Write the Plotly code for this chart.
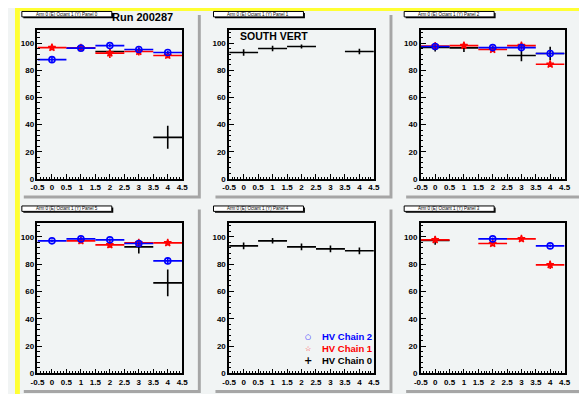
import plotly.graph_objects as go

# ---------------- data ----------------
BINS = [0, 1, 2, 3, 4]
BIN_HALF_WIDTH = 0.5
X_TICKS = [-0.5, 0, 0.5, 1, 1.5, 2, 2.5, 3, 3.5, 4, 4.5]
X_TICK_LABELS = ["-0.5", "0", "0.5", "1", "1.5", "2", "2.5", "3", "3.5", "4", "4.5"]
Y_TICKS = [0, 20, 40, 60, 80, 100]
Y_TICK_LABELS = ["0", "20", "40", "60", "80", "100"]

PANEL_TITLES = ["Arm 0 (E) Octant 1 (Y) Panel 0", "Arm 0 (E) Octant 1 (Y) Panel 1",
                "Arm 0 (E) Octant 1 (Y) Panel 2", "Arm 0 (E) Octant 1 (Y) Panel 5",
                "Arm 0 (E) Octant 1 (Y) Panel 4", "Arm 0 (E) Octant 1 (Y) Panel 3"]
CHAIN_NAMES = ["HV Chain 0", "HV Chain 1", "HV Chain 2"]
CHAIN_COLORS = ["#000000", "#ff0000", "#0000ff"]

# efficiency per bin (None = no point), and errors
p0_chain0 = [None, None, 93.9, None, 30.6]
p0_chain0_err = [0, 0, 1.5, 0, 8.5]
p0_chain1 = [96.8, 96.6, 92.7, 93.9, 91.0]
p0_chain1_err = [2.0, 2.0, 3.5, 3.0, 2.0]
p0_chain2 = [87.9, 96.4, 98.3, 95.4, 93.2]
p0_chain2_err = [2.4, 1.2, 1.2, 1.5, 1.2]

p1_chain0 = [93.2, 96.1, 97.6, None, 93.9]
p1_chain0_err = [2.4, 2.0, 1.5, 0, 2.0]
p1_chain1 = [None, None, None, None, None]
p1_chain1_err = [0, 0, 0, 0, 0]
p1_chain2 = [None, None, None, None, None]
p1_chain2_err = [0, 0, 0, 0, 0]

p2_chain0 = [97.0, 96.6, None, 91.0, 92.5]
p2_chain0_err = [3.0, 3.0, 0, 4.3, 5.0]
p2_chain1 = [98.0, 98.3, 95.4, 98.3, 84.5]
p2_chain1_err = [1.2, 1.5, 1.5, 1.5, 2.0]
p2_chain2 = [97.6, None, 96.8, 96.8, 92.5]
p2_chain2_err = [1.5, 0, 1.2, 1.5, 1.5]

p5_chain0 = [None, None, None, 92.7, 66.3]
p5_chain0_err = [0, 0, 0, 4.9, 9.8]
p5_chain1 = [None, 97.1, 94.1, 95.6, 95.6]
p5_chain1_err = [0, 2.0, 2.0, 1.5, 1.5]
p5_chain2 = [97.1, 98.5, 97.8, 95.1, 82.4]
p5_chain2_err = [1.0, 1.2, 1.0, 1.5, 2.5]

p4_chain0 = [93.4, 97.1, 92.7, 91.2, 89.8]
p4_chain0_err = [2.5, 2.0, 2.5, 2.5, 2.5]
p4_chain1 = [None, None, None, None, None]
p4_chain1_err = [0, 0, 0, 0, 0]
p4_chain2 = [None, None, None, None, None]
p4_chain2_err = [0, 0, 0, 0, 0]

p3_chain0 = [97.3, None, None, None, None]
p3_chain0_err = [3.0, 0, 0, 0, 0]
p3_chain1 = [97.8, None, 95.1, 98.5, 79.5]
p3_chain1_err = [1.5, 0, 2.0, 1.0, 3.0]
p3_chain2 = [None, None, 98.5, None, 93.4]
p3_chain2_err = [0, 0, 1.0, 0, 1.0]

PANELS = [
    [(p0_chain0, p0_chain0_err), (p0_chain1, p0_chain1_err), (p0_chain2, p0_chain2_err)],
    [(p1_chain0, p1_chain0_err), (p1_chain1, p1_chain1_err), (p1_chain2, p1_chain2_err)],
    [(p2_chain0, p2_chain0_err), (p2_chain1, p2_chain1_err), (p2_chain2, p2_chain2_err)],
    [(p5_chain0, p5_chain0_err), (p5_chain1, p5_chain1_err), (p5_chain2, p5_chain2_err)],
    [(p4_chain0, p4_chain0_err), (p4_chain1, p4_chain1_err), (p4_chain2, p4_chain2_err)],
    [(p3_chain0, p3_chain0_err), (p3_chain1, p3_chain1_err), (p3_chain2, p3_chain2_err)],
]

# ---------------- layout geometry (pixels) ----------------
W, H = 587, 394
COL_PAD = [(6, 187), (202, 383), (397, 578)]
ROW_PAD = [(4, 190), (201, 387)]
COL_FRAME = [(23, 171), (219, 367), (415, 562)]
ROW_FRAME = [(22, 173), (218, 370)]
SHADOW = 3
PAD_FILL = "#f1f4f4"
SHADOW_COL = "#a6a6a6"
FONT = "Liberation Sans, Arial, sans-serif"


def px(x):
    return x / W


def py(y):
    return 1 - y / H


fig = go.Figure()
shapes = []
annotations = []

# canvas bevel
shapes.append(dict(type="rect", xref="paper", yref="paper", x0=0, x1=1, y0=py(3), y1=1,
                   fillcolor="#ffff33", line_width=0, layer="below"))
shapes.append(dict(type="rect", xref="paper", yref="paper", x0=0, x1=px(5), y0=0, y1=1,
                   fillcolor="#ffff33", line_width=0, layer="below"))
shapes.append(dict(type="rect", xref="paper", yref="paper", x0=px(584), x1=1, y0=0, y1=py(2),
                   fillcolor="#bdbd00", line_width=0, layer="below"))
shapes.append(dict(type="rect", xref="paper", yref="paper", x0=px(4), x1=1, y0=0, y1=py(391),
                   fillcolor="#bdbd00", line_width=0, layer="below"))

marker_styles = [
    dict(symbol="cross-thin", size=1, color="#000000", line=dict(width=0.5, color="#000000")),
    dict(symbol="star-open", size=5.5, color="#ff0000", line=dict(width=1.3, color="#ff0000")),
    dict(symbol="circle-open", size=6, color="#0000ff", line=dict(width=1.6, color="#0000ff")),
]

for i, panel in enumerate(PANELS):
    r, c = divmod(i, 3)
    ax = "" if i == 0 else str(i + 1)
    (pxa, pxb), (pya, pyb) = COL_PAD[c], ROW_PAD[r]
    # pad shadow + pad
    shapes.append(dict(type="rect", xref="paper", yref="paper",
                       x0=px(pxa + SHADOW), x1=px(pxb + SHADOW), y0=py(pyb + SHADOW), y1=py(pya + SHADOW),
                       fillcolor=SHADOW_COL, line_width=0, layer="below"))
    shapes.append(dict(type="rect", xref="paper", yref="paper",
                       x0=px(pxa), x1=px(pxb), y0=py(pyb), y1=py(pya),
                       fillcolor=PAD_FILL, line_width=0, layer="below"))
    # title box
    bx0, bx1, by0, by1 = pxa + 1, pxa + 93, pya - 0.5, pya + 5
    shapes.append(dict(type="rect", xref="paper", yref="paper",
                       x0=px(bx0 + 1.5), x1=px(bx1 + 1.5), y0=py(by1 + 1.5), y1=py(by0 + 1.5),
                       fillcolor="#000000", line_width=0))
    shapes.append(dict(type="rect", xref="paper", yref="paper",
                       x0=px(bx0), x1=px(bx1), y0=py(by1), y1=py(by0),
                       fillcolor="#ffffff", line=dict(color="#000000", width=1)))
    annotations.append(dict(xref="paper", yref="paper", x=px((bx0 + bx1) / 2), y=py((by0 + by1) / 2),
                            text=PANEL_TITLES[i], showarrow=False, xanchor="center", yanchor="middle",
                            font=dict(family=FONT, size=4.5, color="#000000")))

    (fxa, fxb), (fya, fyb) = COL_FRAME[c], ROW_FRAME[r]
    fig.layout["xaxis" + ax] = dict(
        domain=[px(fxa), px(fxb)], range=[-0.5, 4.5], anchor="y" + ax,
        tickmode="array", tickvals=X_TICKS, ticktext=X_TICK_LABELS,
        ticks="inside", ticklen=5, tickwidth=1, tickcolor="#000000",
        minor=dict(tickmode="linear", tick0=-0.5, dtick=0.1, ticks="inside", ticklen=2.5,
                   tickwidth=1, tickcolor="#000000"),
        showgrid=False, zeroline=False, showline=True, linecolor="#000000", linewidth=1.5,
        mirror=True, fixedrange=True,
        tickfont=dict(family=FONT, size=8, color="#000000", weight="bold"),
    )
    fig.layout["yaxis" + ax] = dict(
        domain=[py(fyb), py(fya)], range=[0, 110], anchor="x" + ax,
        tickmode="array", tickvals=Y_TICKS, ticktext=Y_TICK_LABELS,
        ticks="inside", ticklen=5, tickwidth=1, tickcolor="#000000",
        minor=dict(tickmode="linear", tick0=0, dtick=4, ticks="inside", ticklen=2.5,
                   tickwidth=1, tickcolor="#000000"),
        showgrid=False, zeroline=False, showline=True, linecolor="#000000", linewidth=1.5,
        mirror=True, fixedrange=True,
        tickfont=dict(family=FONT, size=8, color="#000000", weight="bold"),
    )

    for ch, (vals, errs) in enumerate(panel):
        xs = [b for b, v in zip(BINS, vals) if v is not None]
        ys = [v for v in vals if v is not None]
        es = [e for v, e in zip(vals, errs) if v is not None]
        if not xs:
            continue
        col = CHAIN_COLORS[ch]
        fig.add_trace(go.Scatter(
            x=xs, y=ys, mode="markers", name=CHAIN_NAMES[ch], showlegend=False,
            xaxis="x" + ax, yaxis="y" + ax, cliponaxis=False,
            marker=marker_styles[ch],
            error_x=dict(type="data", array=[BIN_HALF_WIDTH] * len(xs), color=col, thickness=1.6, width=0),
            error_y=dict(type="data", array=es, color=col, thickness=1.6, width=0),
        ))

# texts
annotations.append(dict(xref="paper", yref="paper", x=px(130), y=py(9), text="<b>Run 200287</b>",
                        showarrow=False, xanchor="center", yanchor="middle",
                        font=dict(family=FONT, size=11, color="#000000")))
annotations.append(dict(xref="paper", yref="paper", x=px(228), y=py(28), text="<b>SOUTH VERT</b>",
                        showarrow=False, xanchor="left", yanchor="middle",
                        font=dict(family=FONT, size=10.5, color="#000000")))

# legend (in bottom-middle pad)
LEG_ROWS = [(333, "○", 7, CHAIN_COLORS[2], CHAIN_NAMES[2]),
            (345, "☆", 7, CHAIN_COLORS[1], CHAIN_NAMES[1]),
            (357, "+", 10, CHAIN_COLORS[0], CHAIN_NAMES[0])]
for yy, sym, ss, col, name in LEG_ROWS:
    annotations.append(dict(xref="paper", yref="paper", x=px(300), y=py(yy), text="<b>%s</b>" % sym,
                            showarrow=False, xanchor="center", yanchor="middle",
                            font=dict(family="DejaVu Sans", size=ss, color=col)))
    annotations.append(dict(xref="paper", yref="paper", x=px(312), y=py(yy), text="<b>%s</b>" % name,
                            showarrow=False, xanchor="left", yanchor="middle",
                            font=dict(family=FONT, size=9.5, color=col)))

fig.update_layout(width=W, height=H, margin=dict(l=0, r=0, t=0, b=0),
                  paper_bgcolor=PAD_FILL, plot_bgcolor="rgba(0,0,0,0)",
                  shapes=shapes, annotations=annotations, showlegend=False)

fig.write_html("out.html", config={"displayModeBar": False})
